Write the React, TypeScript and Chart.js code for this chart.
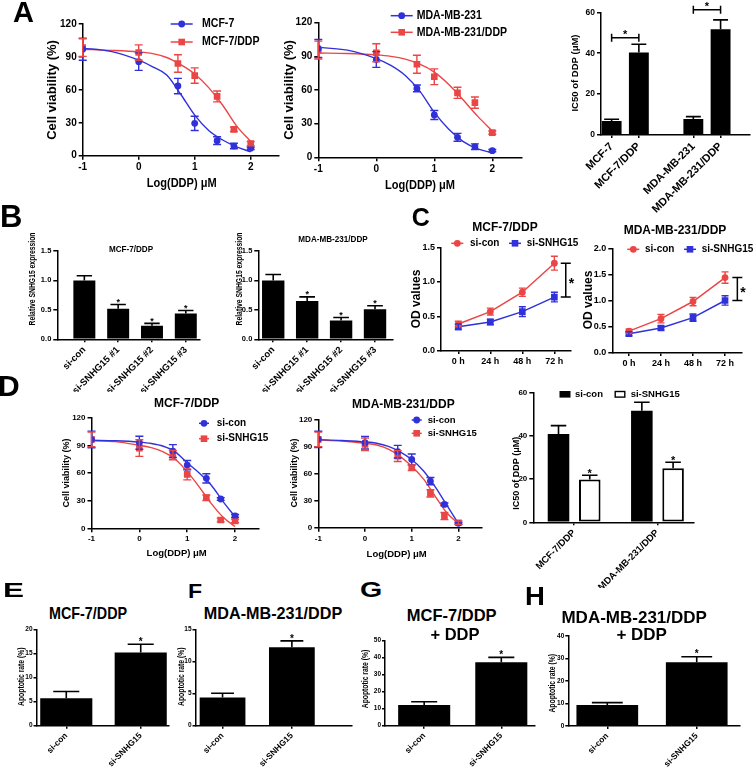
import React, { useEffect, useRef } from 'react';
import { Chart, registerables } from 'chart.js';

Chart.register(...registerables);

const FONT = "'Liberation Sans', Arial, Helvetica, sans-serif";
const BLUE = '#3131d9';
const RED = '#eb4646';

// ---------------- Panel A : dose response ----------------
const doseX = [-1, 0, 0.7, 1, 1.4, 1.7, 2];
const fitX = [-1, -0.5, 0, 0.25, 0.5, 0.75, 1, 1.25, 1.5, 1.75, 2];
const doseTicks = [-1, 0, 1, 2];
const viabTicks = [0, 30, 60, 90, 120];

const a1Mcf7 = [97, 85.7, 63.5, 29.5, 13.7, 8.8, 6.7];
const a1Mcf7Err = [10, 8, 7, 6.5, 3.5, 2.5, 1];
const a1Mcf7Fit = [98, 95, 87, 81, 73.5, 56, 37, 23, 14.3, 8, 3.6];
const a1Ddp = [98.5, 94, 84, 73, 54, 24, 11];
const a1DdpErr = [8, 7, 8, 7, 5, 2, 2];
const a1DdpFit = [97, 96, 94.5, 93, 89.5, 83, 74.5, 62, 46, 27, 13];

const a2Mda = [97, 87.2, 61.4, 37.7, 17.8, 9.5, 5.9];
const a2MdaErr = [8, 7, 3, 4, 3.5, 2.5, 1];
const a2MdaFit = [98, 95.5, 88, 82, 73, 59, 40, 25, 14, 7.5, 4];
const a2Ddp = [95.6, 93.2, 83, 71.8, 57.5, 48.7, 22];
const a2DdpErr = [8, 8, 8, 7, 5, 5, 1.5];
const a2DdpFit = [93, 92.5, 91.3, 90, 87.5, 83, 76, 65, 51, 36.5, 23.5];

const icLabels = ['MCF-7', 'MCF-7/DDP', '', 'MDA-MB-231', 'MDA-MB-231/DDP'];
const icValues = [6.8, 40.3, null, 7.8, 51.7];
const icErr = [0.9, 4.1, null, 1.2, 4.6];
const icTicks = [0, 20, 40, 60];
const icBrackets = [
  { a: 0, b: 1, y: 47.6 },
  { a: 3, b: 4, y: 61.2 },
];

// ---------------- Panel B ----------------
const bLabels = ['si-con', 'si-SNHG15 #1', 'si-SNHG15 #2', 'si-SNHG15 #3'];
const b1Values = [1.0, 0.52, 0.23, 0.44];
const b1Err = [0.08, 0.07, 0.04, 0.05];
const b2Values = [1.0, 0.65, 0.32, 0.51];
const b2Err = [0.1, 0.07, 0.05, 0.06];
const bStars = [false, true, true, true];
const bTicks = [0, 0.5, 1.0, 1.5];

// ---------------- Panel C ----------------
const cTimes = ['0 h', '24 h', '48 h', '72 h'];
const c1Con = [0.39, 0.57, 0.85, 1.27];
const c1ConErr = [0.04, 0.05, 0.06, 0.1];
const c1Si = [0.35, 0.42, 0.57, 0.78];
const c1SiErr = [0.04, 0.04, 0.07, 0.07];
const c1Ticks = [0, 0.5, 1.0, 1.5];
const c2Con = [0.42, 0.66, 0.99, 1.45];
const c2ConErr = [0.04, 0.08, 0.08, 0.11];
const c2Si = [0.37, 0.48, 0.68, 1.01];
const c2SiErr = [0.04, 0.04, 0.07, 0.09];
const c2Ticks = [0, 0.5, 1.0, 1.5, 2.0];

// ---------------- Panel D ----------------
const d1Con = [96.4, 92.8, 83.8, 68.6, 54.2, 31.8, 13.4];
const d1ConErr = [9, 7, 7, 5, 5, 1.5, 1.5];
const d1ConFit = [95.5, 95, 93.5, 92, 89, 83, 71, 60, 47, 29, 12.5];
const d1Si = [96.4, 87, 79.4, 58.5, 33.2, 9, 8];
const d1SiErr = [8, 9, 5, 6, 3, 2, 2];
const d1SiFit = [95, 94, 90, 87.5, 83, 75, 61.5, 45, 27, 12, 2];
const d2Con = [97.8, 94.1, 84.1, 75.6, 51.6, 25.8, 4.8];
const d2ConErr = [9, 7, 7, 6, 4, 1.5, 1];
const d2ConFit = [97.5, 96.5, 95, 93.5, 90, 84, 75.5, 63, 45.5, 25, 4.5];
const d2Si = [97.8, 92.3, 79.3, 66.4, 38, 12.9, 5.5];
const d2SiErr = [8, 7, 6, 3, 4, 4, 2];
const d2SiFit = [97, 96, 93.5, 91.5, 87, 79, 68, 54, 35, 16.5, 4.5];

const dGroups = ['MCF-7/DDP', 'MDA-MB-231/DDP'];
const d3Con = [40.8, 51.5];
const d3ConErr = [3.8, 3.9];
const d3Si = [19.8, 24.9];
const d3SiErr = [1.9, 2.8];
const d3Stars = [true, true];
const d3Ticks = [0, 20, 40, 60];

// ---------------- Panels E-H ----------------
const apLabels = ['si-con', 'si-SNHG15'];
const apStars = [false, true];
const eValues = [5.7, 15.2];
const eErr = [1.4, 1.7];
const eTicks = [0, 5, 10, 15, 20];
const fValues = [4.4, 12.2];
const fErr = [0.65, 1.0];
const fTicks = [0, 5, 10, 15];
const gValues = [12.2, 37.3];
const gErr = [1.9, 2.9];
const gTicks = [0, 10, 20, 30, 40, 50];
const hValues = [9.3, 28.3];
const hErr = [1.1, 2.5];
const hTicks = [0, 10, 20, 30, 40];

// ---------------- geometry ----------------
type Box = { x: number; y: number; w: number; h: number };
type Area = { l: number; t: number; r: number; b: number };
type Geo = { box: Box; area: Area };

const GA1: Geo = { box: { x: 28, y: 0, w: 264, h: 196 }, area: { l: 82.7, t: 24, r: 278.7, b: 155.7 } };
const GA2: Geo = { box: { x: 276, y: 0, w: 250, h: 196 }, area: { l: 318.3, t: 22.7, r: 521.3, b: 157.3 } };
const GA3: Geo = { box: { x: 545, y: 0, w: 208, h: 240 }, area: { l: 601, t: 12.3, r: 750, b: 135 } };
const GB1: Geo = { box: { x: 20, y: 224, w: 186, h: 168 }, area: { l: 57.3, t: 251, r: 200, b: 339.3 } };
const GB2: Geo = { box: { x: 225, y: 222, w: 172, h: 170 }, area: { l: 258.3, t: 251, r: 393, b: 339.3 } };
const GC1: Geo = { box: { x: 400, y: 218, w: 180, h: 152 }, area: { l: 441, t: 247.3, r: 570.7, b: 351 } };
const GC2: Geo = { box: { x: 578, y: 218, w: 175, h: 152 }, area: { l: 612.3, t: 249, r: 741.7, b: 353 } };
const GD1: Geo = { box: { x: 45, y: 392, w: 225, h: 175 }, area: { l: 91.5, t: 417.7, r: 259, b: 528.3 } };
const GD2: Geo = { box: { x: 278, y: 392, w: 212, h: 175 }, area: { l: 318.3, t: 419.3, r: 481.8, b: 527.7 } };
const GD3: Geo = { box: { x: 500, y: 380, w: 253, h: 208 }, area: { l: 533.3, t: 392.3, r: 693.3, b: 522.3 } };
const GE: Geo = { box: { x: 0, y: 622, w: 175, h: 146 }, area: { l: 36.5, t: 629.3, r: 169, b: 725.7 } };
const GF: Geo = { box: { x: 176, y: 622, w: 180, h: 146 }, area: { l: 195.5, t: 629.3, r: 351.5, b: 725.7 } };
const GG: Geo = { box: { x: 356, y: 636, w: 184, h: 132 }, area: { l: 385, t: 640.7, r: 535, b: 725.7 } };
const GH: Geo = { box: { x: 541, y: 630, w: 212, h: 138 }, area: { l: 568.3, t: 636, r: 739.3, b: 726 } };

type TextItem = { text: string; x: number; y: number; size: number; weight?: string; rot?: number; sx?: number; align?: CanvasTextAlign };
type LegendItem = { label: string; color: string; style: string; x: number; y: number; tx: number };
type Decor = {
  texts?: TextItem[];
  legend?: { items: LegendItem[]; size: number; sx?: number; half: number };
  brackets?: { a: number; b: number; y: number }[];
  vbrackets?: { hi: number; lo: number; at: number; dx: number }[];
  starSize?: number;
  starGap?: number;
  bracketStar?: number;
};

function drawText(ctx: any, t: TextItem, ox: number, oy: number) {
  ctx.save();
  ctx.translate(t.x - ox, t.y - oy);
  if (t.rot) ctx.rotate((t.rot * Math.PI) / 180);
  if (t.sx) ctx.scale(t.sx, 1);
  ctx.font = `${t.weight ?? 'bold'} ${t.size}px ${FONT}`;
  ctx.fillStyle = '#000';
  ctx.textAlign = t.align ?? 'center';
  ctx.textBaseline = 'middle';
  ctx.fillText(t.text, 0, 0);
  ctx.restore();
}

function drawStar(ctx: any, x: number, yc: number, size: number, align: CanvasTextAlign = 'center') {
  ctx.save();
  ctx.font = `bold ${size}px ${FONT}`;
  ctx.fillStyle = '#000';
  ctx.textAlign = align;
  ctx.textBaseline = 'alphabetic';
  ctx.fillText('*', x, yc + 0.57 * size);
  ctx.restore();
}

function drawMarker(ctx: any, style: string, x: number, y: number, color: string) {
  ctx.save();
  ctx.fillStyle = color;
  if (style === 'circle') {
    ctx.beginPath();
    ctx.arc(x, y, 3.4, 0, Math.PI * 2);
    ctx.fill();
  } else if (style === 'rect') {
    ctx.fillRect(x - 3.3, y - 3.3, 6.6, 6.6);
  } else if (style === 'boxFill') {
    ctx.fillStyle = '#000';
    ctx.fillRect(x - 5.5, y - 3.3, 11, 6.6);
  } else if (style === 'boxHollow') {
    ctx.strokeStyle = '#000';
    ctx.lineWidth = 1.4;
    ctx.strokeRect(x - 4.8, y - 2.8, 9.6, 5.6);
  }
  ctx.restore();
}

function decorPlugin(g: Geo, d: Decor) {
  const ox = g.box.x;
  const oy = g.box.y;
  return {
    id: 'decor',
    afterDraw(chart: any) {
      const ctx = chart.ctx;
      const xs = chart.scales.x;
      const ys = chart.scales.y;
      const starSize = d.starSize ?? 10;
      const starGap = d.starGap ?? 5;
      chart.data.datasets.forEach((ds: any, di: number) => {
        if (!ds.errs) return;
        const meta = chart.getDatasetMeta(di);
        meta.data.forEach((el: any, i: number) => {
          const raw = ds.data[i];
          const val = raw && typeof raw === 'object' ? raw.y : raw;
          const e = ds.errs[i];
          if (val == null || e == null) return;
          const x = el.x;
          const yt = ys.getPixelForValue(val + e);
          const yb = ys.getPixelForValue(ds.upOnly ? val : val - e);
          const cw = ds.capFrac ? el.width * ds.capFrac : ds.capW;
          ctx.save();
          ctx.strokeStyle = ds.errColor;
          ctx.lineWidth = ds.errW;
          ctx.beginPath();
          ctx.moveTo(x, yb);
          ctx.lineTo(x, yt);
          ctx.moveTo(x - cw / 2, yt);
          ctx.lineTo(x + cw / 2, yt);
          if (!ds.upOnly) {
            ctx.moveTo(x - cw / 2, yb);
            ctx.lineTo(x + cw / 2, yb);
          }
          ctx.stroke();
          ctx.restore();
          if (ds.stars && ds.stars[i]) drawStar(ctx, x, yt - starGap, starSize);
        });
      });
      (d.brackets || []).forEach((b) => {
        const x1 = xs.getPixelForValue(b.a);
        const x2 = xs.getPixelForValue(b.b);
        const y = ys.getPixelForValue(b.y);
        ctx.save();
        ctx.strokeStyle = '#000';
        ctx.lineWidth = 1.5;
        ctx.beginPath();
        ctx.moveTo(x1, y);
        ctx.lineTo(x2, y);
        ctx.moveTo(x1, y - 4);
        ctx.lineTo(x1, y + 4);
        ctx.moveTo(x2, y - 4);
        ctx.lineTo(x2, y + 4);
        ctx.stroke();
        ctx.restore();
        drawStar(ctx, (x1 + x2) / 2, y - 6, d.bracketStar ?? 11);
      });
      (d.vbrackets || []).forEach((b) => {
        const x = xs.getPixelForValue(b.at) + b.dx;
        const y1 = ys.getPixelForValue(b.hi);
        const y2 = ys.getPixelForValue(b.lo);
        ctx.save();
        ctx.strokeStyle = '#000';
        ctx.lineWidth = 1.5;
        ctx.beginPath();
        ctx.moveTo(x, y1);
        ctx.lineTo(x, y2);
        ctx.moveTo(x - 5, y1);
        ctx.lineTo(x + 5, y1);
        ctx.moveTo(x - 5, y2);
        ctx.lineTo(x + 5, y2);
        ctx.stroke();
        ctx.restore();
        drawStar(ctx, x + 3, (y1 + y2) / 2, 14, 'left');
      });
      if (d.legend) {
        const L = d.legend;
        L.items.forEach((it) => {
          const x = it.x - ox;
          const y = it.y - oy;
          if (it.style === 'circle' || it.style === 'rect') {
            ctx.save();
            ctx.strokeStyle = it.color;
            ctx.lineWidth = 1.5;
            ctx.beginPath();
            ctx.moveTo(x - L.half, y);
            ctx.lineTo(x + L.half, y);
            ctx.stroke();
            ctx.restore();
          }
          drawMarker(ctx, it.style, x, y, it.color);
          drawText(ctx, { text: it.label, x: it.tx, y: it.y, size: L.size, sx: L.sx, align: 'left' }, ox, oy);
        });
      }
      (d.texts || []).forEach((t) => drawText(ctx, t, ox, oy));
    },
  };
}

function yAxis(g: Geo, ticks: number[], size: number, fmt?: (v: number) => string, tickLen = 4, pad = 2) {
  const w = g.area.l - g.box.x;
  return {
    type: 'linear',
    position: 'left',
    min: ticks[0],
    max: ticks[ticks.length - 1],
    bounds: 'data',
    afterBuildTicks: (s: any) => {
      s.ticks = ticks.map((v) => ({ value: v }));
    },
    afterFit: (s: any) => {
      s.width = w;
      s.paddingTop = 0;
      s.paddingBottom = 0;
    },
    ticks: {
      autoSkip: false,
      font: { family: FONT, size, weight: 'bold' },
      color: '#000',
      padding: pad,
      callback: (v: number) => (fmt ? fmt(v) : String(v)),
    },
    grid: { drawOnChartArea: false, drawTicks: true, tickLength: tickLen, tickWidth: 1.5, color: '#000', lineWidth: 1.5 },
    border: { display: true, color: '#000', width: 1.5 },
  };
}

function xAxis(g: Geo, min: number, max: number, tickVals: number[], labelOf: (v: number) => string, size: number, rot: number, tickLen: number) {
  const h = g.box.y + g.box.h - g.area.b;
  return {
    type: 'linear',
    position: 'bottom',
    min,
    max,
    bounds: 'data',
    offset: false,
    afterBuildTicks: (s: any) => {
      s.ticks = tickVals.map((v) => ({ value: v }));
    },
    afterFit: (s: any) => {
      s.height = h;
      s.paddingLeft = 0;
      s.paddingRight = 0;
    },
    ticks: {
      autoSkip: false,
      minRotation: rot,
      maxRotation: rot,
      font: { family: FONT, size, weight: 'bold' },
      color: '#000',
      padding: 2,
      callback: (v: number) => labelOf(v),
    },
    grid: { offset: false, drawOnChartArea: false, drawTicks: true, tickLength: tickLen, tickWidth: 1.5, color: '#000', lineWidth: 1.5 },
    border: { display: true, color: '#000', width: 1.5 },
  };
}

function baseOptions(g: Geo, scales: any) {
  return {
    responsive: false,
    animation: false,
    events: [],
    layout: {
      autoPadding: false,
      padding: { left: 0, bottom: 0, top: g.area.t - g.box.y, right: g.box.x + g.box.w - g.area.r },
    },
    plugins: { legend: { display: false }, tooltip: { enabled: false }, title: { display: false } },
    scales,
  };
}

type Series = { label: string; pts: number[]; err: number[]; fit: number[]; color: string; style: string };

function doseConfig(g: Geo, series: Series[], tick: number, decor: Decor) {
  const datasets: any[] = [];
  series.forEach((s) => {
    datasets.push({
      label: s.label,
      data: doseX.map((x, i) => ({ x, y: s.pts[i] })),
      showLine: false,
      pointStyle: s.style,
      pointRadius: s.style === 'rect' ? 4.7 : 3.4,
      pointBackgroundColor: s.color,
      pointBorderColor: s.color,
      pointBorderWidth: 0,
      borderColor: s.color,
      errs: s.err,
      errColor: s.color,
      errW: 1.4,
      capW: 8,
      order: 0,
    });
    datasets.push({
      label: s.label + ' fit',
      data: fitX.map((x, i) => ({ x, y: s.fit[i] })),
      showLine: true,
      pointRadius: 0,
      borderColor: s.color,
      borderWidth: 1.4,
      cubicInterpolationMode: 'monotone',
      order: 1,
    });
  });
  return {
    type: 'scatter',
    data: { datasets },
    options: baseOptions(g, {
      x: xAxis(g, -1, 2.5, doseTicks, (v) => String(v), tick, 0, 4),
      y: yAxis(g, viabTicks, tick),
    }),
    plugins: [decorPlugin(g, decor)],
  };
}

type BarSeries = { label: string; values: (number | null)[]; err: (number | null)[]; stars?: boolean[]; fill: string; border: number };

function barConfig(
  g: Geo,
  labels: string[],
  xr: [number, number],
  bars: BarSeries[],
  yTicks: number[],
  o: { tick: number; xtick: number; rot: number; bp: number; cp: number; capFrac: number; fmt?: (v: number) => string; yTickLen?: number; yPad?: number },
  decor: Decor
) {
  const datasets = bars.map((b) => ({
    type: 'bar',
    label: b.label,
    data: labels.map((_, i) => ({ x: i, y: b.values[i] })),
    backgroundColor: b.fill,
    borderColor: '#000',
    borderWidth: b.border,
    borderSkipped: false,
    barPercentage: o.bp,
    categoryPercentage: o.cp,
    errs: b.err,
    upOnly: true,
    errColor: '#000',
    errW: 1.6,
    capFrac: o.capFrac,
    stars: b.stars,
  }));
  const tickVals = labels.map((_, i) => i).filter((i) => labels[i] !== '');
  return {
    type: 'bar',
    data: { datasets },
    options: baseOptions(g, {
      x: xAxis(g, xr[0], xr[1], tickVals, (v) => labels[v] ?? '', o.xtick, o.rot, 3),
      y: yAxis(g, yTicks, o.tick, o.fmt, o.yTickLen ?? 4, o.yPad ?? 2),
    }),
    plugins: [decorPlugin(g, decor)],
  };
}

function timeConfig(g: Geo, con: number[], conErr: number[], si: number[], siErr: number[], yTicks: number[], xr: [number, number], decor: Decor) {
  const mk = (label: string, vals: number[], errs: number[], color: string, style: string) => ({
    label,
    data: cTimes.map((_, i) => ({ x: i, y: vals[i] })),
    showLine: true,
    borderColor: color,
    borderWidth: 1.5,
    pointStyle: style,
    pointRadius: style === 'rect' ? 4.7 : 3.4,
    pointBackgroundColor: color,
    pointBorderWidth: 0,
    errs,
    errColor: color,
    errW: 1.4,
    capW: 7,
  });
  return {
    type: 'scatter',
    data: { datasets: [mk('si-con', con, conErr, RED, 'circle'), mk('si-SNHG15', si, siErr, BLUE, 'rect')] },
    options: baseOptions(g, {
      x: xAxis(g, xr[0], xr[1], cTimes.map((_, i) => i), (v) => cTimes[v] ?? '', 9, 0, 3),
      y: yAxis(g, yTicks, 9, (v) => v.toFixed(1)),
    }),
    plugins: [decorPlugin(g, decor)],
  };
}

function ChartBox({ geo, make }: { geo: Geo; make: () => any }) {
  const ref = useRef<HTMLCanvasElement>(null);
  useEffect(() => {
    const chart = new Chart(ref.current as HTMLCanvasElement, make());
    return () => chart.destroy();
  }, []);
  const b = geo.box;
  return (
    <canvas
      ref={ref}
      width={b.w}
      height={b.h}
      style={{ position: 'absolute', left: b.x, top: b.y, width: b.w, height: b.h }}
    />
  );
}

function Letter({ t, x, y, size, sx = 1 }: { t: string; x: number; y: number; size: number; sx?: number }) {
  return (
    <div
      style={{
        position: 'absolute',
        left: x,
        top: y - 0.1305 * size,
        fontFamily: FONT,
        fontWeight: 'bold',
        fontSize: size,
        lineHeight: 1,
        transform: `scaleX(${sx})`,
        transformOrigin: 'left top',
        whiteSpace: 'nowrap',
        color: '#000',
      }}
    >
      {t}
    </div>
  );
}

function Title({ t, x, y, size, sx = 1 }: { t: string; x: number; y: number; size: number; sx?: number }) {
  return (
    <div
      style={{
        position: 'absolute',
        left: x,
        top: y - 0.4885 * size,
        fontFamily: FONT,
        fontWeight: 'bold',
        fontSize: size,
        lineHeight: 1,
        transform: `translateX(-50%) scaleX(${sx})`,
        whiteSpace: 'nowrap',
        color: '#000',
      }}
    >
      {t}
    </div>
  );
}

const viabTitle = 'Cell viability (%)';
const logTitle = 'Log(DDP) μM';
const icTitle = 'IC50 of DDP (μM)';
const apTitle = 'Apoptotic rate (%)';
const relTitle = 'Relative SNHG15 expression';

export default function App() {
  return (
    <div style={{ position: 'absolute', left: 0, top: 0, width: 753, height: 768, background: '#fff', overflow: 'hidden' }}>
      {/* Panel A */}
      <ChartBox
        geo={GA1}
        make={() =>
          doseConfig(
            GA1,
            [
              { label: 'MCF-7', pts: a1Mcf7, err: a1Mcf7Err, fit: a1Mcf7Fit, color: BLUE, style: 'circle' },
              { label: 'MCF-7/DDP', pts: a1Ddp, err: a1DdpErr, fit: a1DdpFit, color: RED, style: 'rect' },
            ],
            10,
            {
              texts: [
                { text: viabTitle, x: 52.7, y: 90, size: 13, rot: -90 },
                { text: logTitle, x: 181.7, y: 183, size: 13, sx: 0.85 },
              ],
              legend: {
                size: 12,
                sx: 0.88,
                half: 11,
                items: [
                  { label: 'MCF-7', color: BLUE, style: 'circle', x: 181.7, y: 24, tx: 202 },
                  { label: 'MCF-7/DDP', color: RED, style: 'rect', x: 181.7, y: 42, tx: 202 },
                ],
              },
            }
          )
        }
      />
      <ChartBox
        geo={GA2}
        make={() =>
          doseConfig(
            GA2,
            [
              { label: 'MDA-MB-231', pts: a2Mda, err: a2MdaErr, fit: a2MdaFit, color: BLUE, style: 'circle' },
              { label: 'MDA-MB-231/DDP', pts: a2Ddp, err: a2DdpErr, fit: a2DdpFit, color: RED, style: 'rect' },
            ],
            10,
            {
              texts: [
                { text: viabTitle, x: 289.3, y: 90, size: 13, rot: -90 },
                { text: logTitle, x: 420, y: 185, size: 13, sx: 0.85 },
              ],
              legend: {
                size: 12,
                sx: 0.88,
                half: 11,
                items: [
                  { label: 'MDA-MB-231', color: BLUE, style: 'circle', x: 401.7, y: 15.7, tx: 416.7 },
                  { label: 'MDA-MB-231/DDP', color: RED, style: 'rect', x: 401.7, y: 32.3, tx: 416.7 },
                ],
              },
            }
          )
        }
      />
      <ChartBox
        geo={GA3}
        make={() =>
          barConfig(
            GA3,
            icLabels,
            [-0.39, 5.08],
            [{ label: 'IC50', values: icValues, err: icErr, fill: '#000', border: 0 }],
            icTicks,
            { tick: 8.5, xtick: 11, rot: 45, bp: 0.73, cp: 1, capFrac: 0.75 },
            {
              brackets: icBrackets,
              bracketStar: 11,
              texts: [{ text: icTitle, x: 575, y: 73, size: 9.5, rot: -90 }],
            }
          )
        }
      />

      {/* Panel B */}
      <ChartBox
        geo={GB1}
        make={() =>
          barConfig(
            GB1,
            bLabels,
            [-0.8, 3.42],
            [{ label: 'MCF-7/DDP', values: b1Values, err: b1Err, stars: bStars, fill: '#000', border: 0 }],
            bTicks,
            { tick: 7.5, xtick: 9.5, rot: 45, bp: 0.65, cp: 1, capFrac: 0.7, fmt: (v) => v.toFixed(1) },
            {
              starSize: 9,
              starGap: 5,
              texts: [
                { text: 'MCF-7/DDP', x: 131, y: 249.3, size: 9, sx: 0.9 },
                { text: relTitle, x: 33, y: 279, size: 8.5, sx: 0.8, rot: -90 },
              ],
            }
          )
        }
      />
      <ChartBox
        geo={GB2}
        make={() =>
          barConfig(
            GB2,
            bLabels,
            [-0.44, 3.53],
            [{ label: 'MDA-MB-231/DDP', values: b2Values, err: b2Err, stars: bStars, fill: '#000', border: 0 }],
            bTicks,
            { tick: 7.5, xtick: 9.5, rot: 45, bp: 0.66, cp: 1, capFrac: 0.7, fmt: (v) => v.toFixed(1) },
            {
              starSize: 9,
              starGap: 5,
              texts: [
                { text: 'MDA-MB-231/DDP', x: 333, y: 239.3, size: 9, sx: 0.9 },
                { text: relTitle, x: 240, y: 279, size: 8.5, sx: 0.8, rot: -90 },
              ],
            }
          )
        }
      />

      {/* Panel C */}
      <ChartBox
        geo={GC1}
        make={() =>
          timeConfig(GC1, c1Con, c1ConErr, c1Si, c1SiErr, c1Ticks, [-0.54, 3.51], {
            vbrackets: [{ hi: c1Con[3], lo: c1Si[3], at: 3, dx: 11.4 }],
            texts: [
              { text: 'MCF-7/DDP', x: 505, y: 227.7, size: 12 },
              { text: 'OD values', x: 416.7, y: 299, size: 12, rot: -90 },
            ],
            legend: {
              size: 10,
              half: 6,
              items: [
                { label: 'si-con', color: RED, style: 'circle', x: 457.3, y: 243.3, tx: 470 },
                { label: 'si-SNHG15', color: BLUE, style: 'rect', x: 515, y: 243.3, tx: 526.7 },
              ],
            },
          })
        }
      />
      <ChartBox
        geo={GC2}
        make={() =>
          timeConfig(GC2, c2Con, c2ConErr, c2Si, c2SiErr, c2Ticks, [-0.52, 3.52], {
            vbrackets: [{ hi: c2Con[3], lo: c2Si[3], at: 3, dx: 12.3 }],
            texts: [
              { text: 'MDA-MB-231/DDP', x: 675, y: 231, size: 12 },
              { text: 'OD values', x: 588.3, y: 300, size: 12, rot: -90 },
            ],
            legend: {
              size: 10,
              half: 6,
              items: [
                { label: 'si-con', color: RED, style: 'circle', x: 633.3, y: 249.3, tx: 645 },
                { label: 'si-SNHG15', color: BLUE, style: 'rect', x: 690, y: 249.3, tx: 701.7 },
              ],
            },
          })
        }
      />

      {/* Panel D */}
      <ChartBox
        geo={GD1}
        make={() =>
          doseConfig(
            GD1,
            [
              { label: 'si-con', pts: d1Con, err: d1ConErr, fit: d1ConFit, color: BLUE, style: 'circle' },
              { label: 'si-SNHG15', pts: d1Si, err: d1SiErr, fit: d1SiFit, color: RED, style: 'rect' },
            ],
            8,
            {
              texts: [
                { text: 'MCF-7/DDP', x: 186.7, y: 404, size: 12 },
                { text: viabTitle, x: 66.7, y: 473, size: 9, rot: -90 },
                { text: logTitle, x: 176.7, y: 553.3, size: 9.5 },
              ],
              legend: {
                size: 10,
                half: 5,
                items: [
                  { label: 'si-con', color: BLUE, style: 'circle', x: 204, y: 423.3, tx: 216.7 },
                  { label: 'si-SNHG15', color: RED, style: 'rect', x: 204, y: 438.7, tx: 216.7 },
                ],
              },
            }
          )
        }
      />
      <ChartBox
        geo={GD2}
        make={() =>
          doseConfig(
            GD2,
            [
              { label: 'si-con', pts: d2Con, err: d2ConErr, fit: d2ConFit, color: BLUE, style: 'circle' },
              { label: 'si-SNHG15', pts: d2Si, err: d2SiErr, fit: d2SiFit, color: RED, style: 'rect' },
            ],
            8,
            {
              texts: [
                { text: 'MDA-MB-231/DDP', x: 403.3, y: 404.3, size: 12 },
                { text: viabTitle, x: 295, y: 473, size: 9, rot: -90 },
                { text: logTitle, x: 396.7, y: 554.3, size: 9.5 },
              ],
              legend: {
                size: 9.5,
                half: 5,
                items: [
                  { label: 'si-con', color: BLUE, style: 'circle', x: 416.7, y: 420, tx: 427.7 },
                  { label: 'si-SNHG15', color: RED, style: 'rect', x: 416.7, y: 433.3, tx: 427.7 },
                ],
              },
            }
          )
        }
      />
      <ChartBox
        geo={GD3}
        make={() =>
          barConfig(
            GD3,
            dGroups,
            [-0.49, 1.43],
            [
              { label: 'si-con', values: d3Con, err: d3ConErr, fill: '#000', border: 0 },
              { label: 'si-SNHG15', values: d3Si, err: d3SiErr, stars: d3Stars, fill: '#fff', border: 2 },
            ],
            d3Ticks,
            { tick: 8, xtick: 9.5, rot: 45, bp: 0.69, cp: 0.75, capFrac: 0.72 },
            {
              starSize: 11,
              starGap: 5,
              texts: [{ text: icTitle, x: 516.7, y: 473.3, size: 9, rot: -90 }],
              legend: {
                size: 9.5,
                half: 0,
                items: [
                  { label: 'si-con', color: '#000', style: 'boxFill', x: 565, y: 394.3, tx: 575 },
                  { label: 'si-SNHG15', color: '#000', style: 'boxHollow', x: 620, y: 394.3, tx: 630.7 },
                ],
              },
            }
          )
        }
      />

      {/* Panels E-H */}
      <ChartBox
        geo={GE}
        make={() =>
          barConfig(
            GE,
            apLabels,
            [-0.4, 1.38],
            [{ label: 'MCF-7/DDP', values: eValues, err: eErr, stars: apStars, fill: '#000', border: 0 }],
            eTicks,
            { tick: 6.5, xtick: 8.5, rot: 45, bp: 0.7, cp: 1, capFrac: 0.5, yTickLen: 3, yPad: 1 },
            { starSize: 10, starGap: 5, texts: [{ text: apTitle, x: 21.5, y: 676.7, size: 8.5, sx: 0.8, rot: -90 }] }
          )
        }
      />
      <ChartBox
        geo={GF}
        make={() =>
          barConfig(
            GF,
            apLabels,
            [-0.39, 1.86],
            [{ label: 'MDA-MB-231/DDP', values: fValues, err: fErr, stars: apStars, fill: '#000', border: 0 }],
            fTicks,
            { tick: 6.5, xtick: 8.5, rot: 45, bp: 0.66, cp: 1, capFrac: 0.5, yTickLen: 3, yPad: 1 },
            { starSize: 10, starGap: 5, texts: [{ text: apTitle, x: 182, y: 676.7, size: 8.5, sx: 0.8, rot: -90 }] }
          )
        }
      />
      <ChartBox
        geo={GG}
        make={() =>
          barConfig(
            GG,
            apLabels,
            [-0.508, 1.437],
            [{ label: 'MCF-7/DDP + DDP', values: gValues, err: gErr, stars: apStars, fill: '#000', border: 0 }],
            gTicks,
            { tick: 6.5, xtick: 8.5, rot: 45, bp: 0.675, cp: 1, capFrac: 0.5, yTickLen: 3, yPad: 1 },
            { starSize: 10, starGap: 5, texts: [{ text: apTitle, x: 366, y: 679, size: 8.5, sx: 0.8, rot: -90 }] }
          )
        }
      />
      <ChartBox
        geo={GH}
        make={() =>
          barConfig(
            GH,
            apLabels,
            [-0.436, 1.476],
            [{ label: 'MDA-MB-231/DDP + DDP', values: hValues, err: hErr, stars: apStars, fill: '#000', border: 0 }],
            hTicks,
            { tick: 6.5, xtick: 8.5, rot: 45, bp: 0.69, cp: 1, capFrac: 0.5, yTickLen: 3, yPad: 1 },
            { starSize: 10, starGap: 5, texts: [{ text: apTitle, x: 552.7, y: 683.3, size: 8.5, sx: 0.8, rot: -90 }] }
          )
        }
      />

      {/* titles E-H */}
      <Title t="MCF-7/DDP" x={88.3} y={613.3} size={16.5} sx={0.87} />
      <Title t="MDA-MB-231/DDP" x={273.3} y={613.3} size={16.5} sx={0.98} />
      <Title t="MCF-7/DDP" x={451.7} y={614.7} size={16.5} />
      <Title t="+ DDP" x={455} y={633.8} size={16.5} />
      <Title t="MDA-MB-231/DDP" x={634.2} y={617.2} size={17} />
      <Title t="+ DDP" x={641.7} y={634.7} size={17} />

      {/* panel letters */}
      <Letter t="A" x={13} y={2} size={29} />
      <Letter t="B" x={0} y={205} size={31} />
      <Letter t="C" x={411.7} y={208.3} size={25} />
      <Letter t="D" x={-2} y={375} size={30} />
      <Letter t="E" x={3} y={582} size={21} sx={1.5} />
      <Letter t="F" x={188} y={583} size={21} sx={1.1} />
      <Letter t="G" x={360} y={582} size={22} sx={1.3} />
      <Letter t="H" x={525} y={587} size={25} sx={1.1} />
    </div>
  );
}
